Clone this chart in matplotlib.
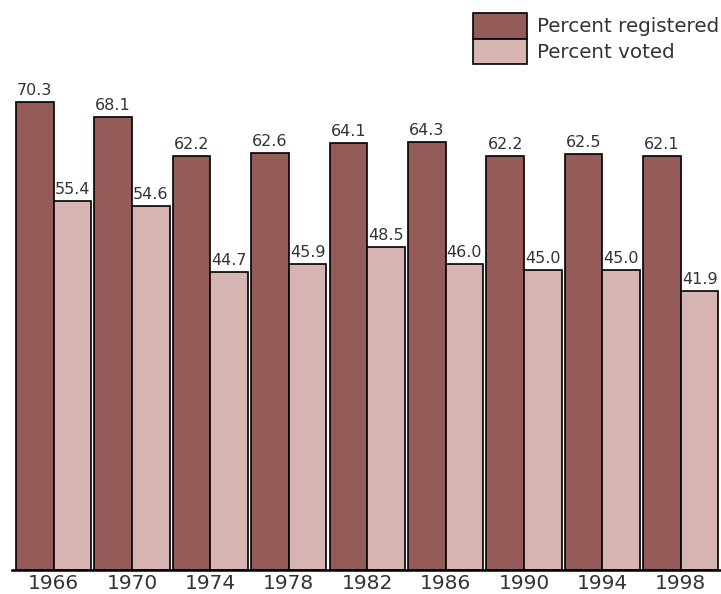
import numpy as np
import matplotlib.pyplot as plt

years = ["1966", "1970", "1974", "1978", "1982", "1986", "1990", "1994", "1998"]
registered = [70.3, 68.1, 62.2, 62.6, 64.1, 64.3, 62.2, 62.5, 62.1]
voted = [55.4, 54.6, 44.7, 45.9, 48.5, 46.0, 45.0, 45.0, 41.9]

dark = "#955b59"
light = "#d6b4b1"
txt = "#333333"

W, H = 721, 594
fig = plt.figure(figsize=(W / 100, H / 100), dpi=100)
ax = fig.add_axes([12 / W, 24 / H, 708 / W, 570 / H])

x = np.arange(len(years))
bw = 0.48
b1 = ax.bar(x - bw / 2, registered, bw, color=dark, edgecolor="black", linewidth=1.2,
            label="Percent registered")
b2 = ax.bar(x + bw / 2, voted, bw, color=light, edgecolor="black", linewidth=1.2,
            label="Percent voted")

# value labels above each bar
for bars, vals in [(b1, registered), (b2, voted)]:
    for r, v in zip(bars, vals):
        ax.text(r.get_x() + r.get_width() / 2, v + 0.6, f"{v:.1f}",
                ha="center", va="bottom", fontsize=11.5, color=txt)

ax.set_xlim(-0.53, 8.5)
ax.set_ylim(0, 85.6)
ax.set_xticks(x)
ax.set_xticklabels(years, fontsize=14.5, color=txt)
ax.tick_params(axis="x", length=0, pad=3)
ax.set_yticks([])
for s in ["left", "right", "top"]:
    ax.spines[s].set_visible(False)
ax.spines["bottom"].set_linewidth(1.8)

fig.legend(loc="upper right", bbox_to_anchor=(719 / W, 1 - 13 / H), frameon=False,
           fontsize=14.3, handlelength=2.7, handleheight=1.6, labelspacing=0.0,
           handletextpad=0.5, borderpad=0, borderaxespad=0, labelcolor=txt)

fig.savefig("out.png", dpi=100)
